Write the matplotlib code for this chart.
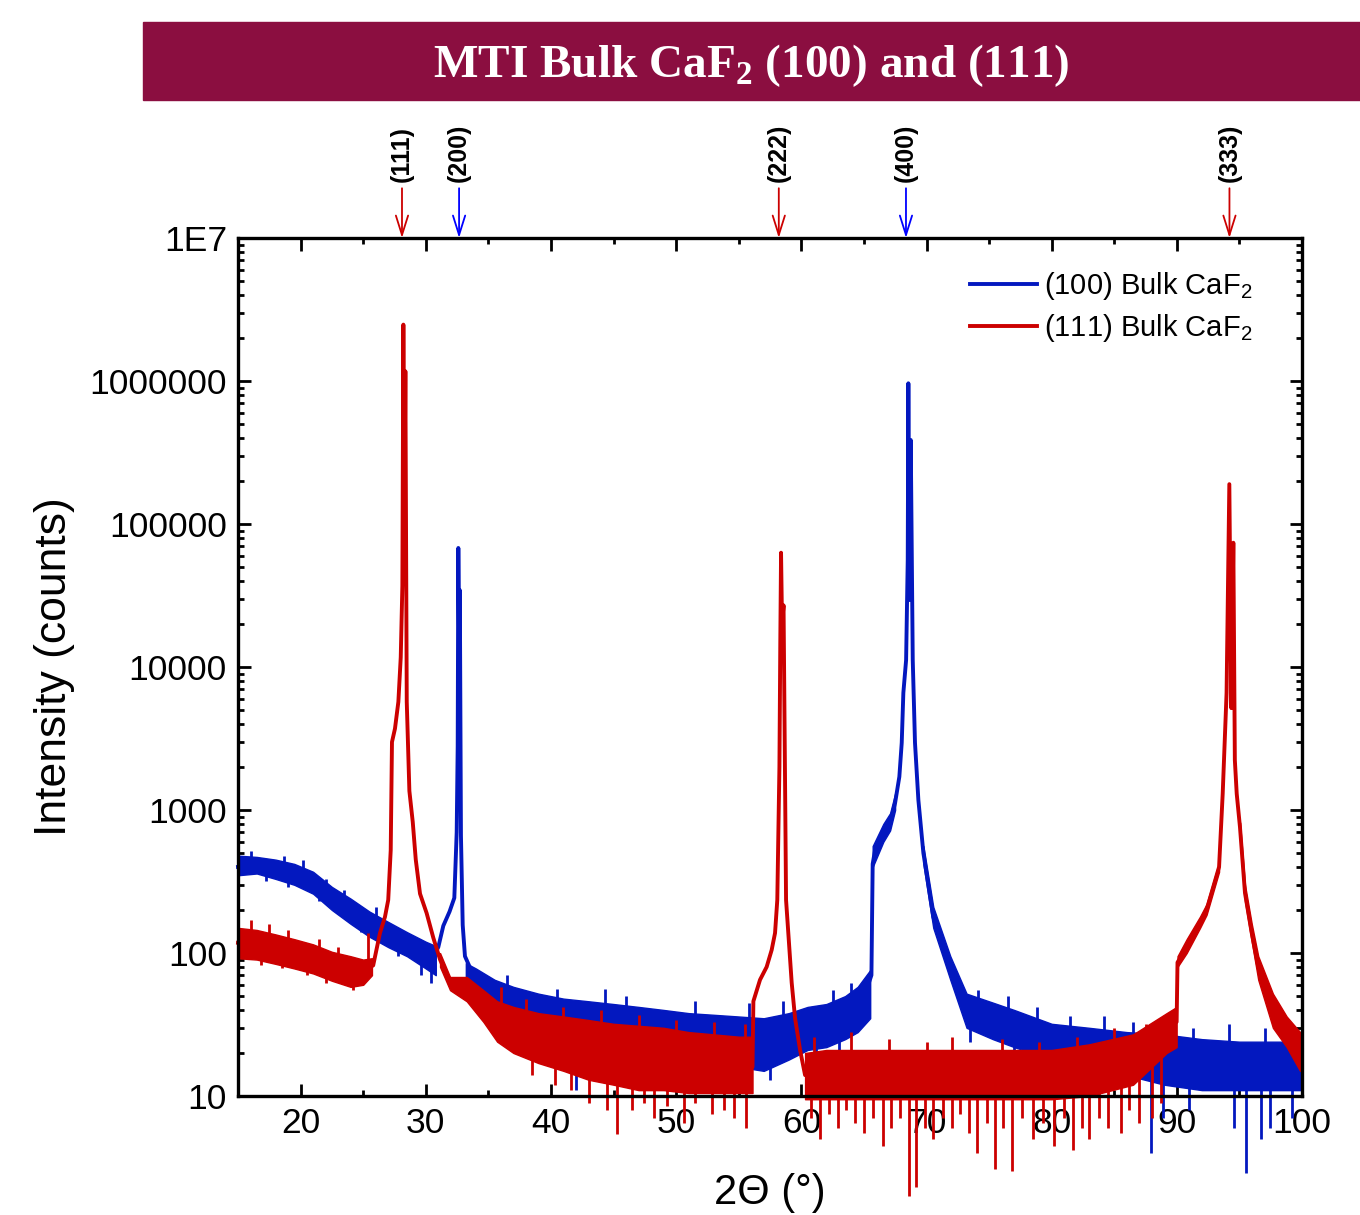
import numpy as np
import matplotlib.pyplot as plt
from matplotlib.patches import Rectangle
from matplotlib.ticker import FixedLocator, MultipleLocator, LogLocator, NullFormatter

plt.rcParams['font.family'] = ['Liberation Sans', 'DejaVu Sans']
plt.rcParams['mathtext.fontset'] = 'custom'
plt.rcParams['mathtext.rm'] = 'Liberation Sans'
plt.rcParams['mathtext.sf'] = 'Liberation Sans'
plt.rcParams['mathtext.bf'] = 'Liberation Serif:bold'

BLUE = '#0318BF'
RED = '#CC0000'

# ---- (100) Bulk CaF2, main trace ----
x_blue = [15.0, 16.5, 18.0, 19.5, 21.0, 22.5, 24.0, 25.5, 27.0, 28.5, 30.0, 30.5,
          31.0, 31.4, 31.9, 32.28, 32.47, 32.55, 32.6, 32.66, 32.72, 32.81, 32.95,
          33.13, 33.8, 34.6, 35.5, 37, 39, 41, 43, 45, 47, 49, 51, 53, 55, 57, 59,
          60.5, 62, 63.5, 64.5, 65.2, 65.6, 65.7, 65.89, 66.55, 67.09, 67.49, 67.83,
          68.02, 68.15, 68.37, 68.5, 68.55, 68.63, 68.74, 68.9, 69.08, 69.35, 69.75,
          70.54, 71.9, 73.2, 75.3, 77, 80, 83, 86, 89, 92, 95, 98, 100]
y_blue = [400, 410, 390, 360, 320, 250, 200, 165, 140, 120, 102, 90,
          110, 155, 195, 243, 700, 2800, 68000, 15000, 34500, 660, 157,
          95, 70, 62, 52, 46, 40, 37, 35, 33, 31, 29, 27, 26, 25, 24, 27,
          30, 32, 36, 42, 55, 70, 420, 525, 690, 810, 1120, 1710,
          2950, 6600, 11200, 56000, 964000, 29400, 387000, 11200, 2950, 1175, 500,
          179, 80, 40, 33, 29, 24, 21, 19, 18, 17, 16, 16, 16]

# noise band of the (100) trace
bx_blue = [[15, 16.5, 18, 19.5, 21, 22.5, 24, 25.5, 27, 28.5, 30, 30.8],
           [33.2, 34, 35.5, 37, 39, 41, 43, 45, 47, 49, 51, 53, 55, 57, 59, 60.5,
            62, 63.5, 64.5, 65.5],
           [65.7, 66.55, 67.09, 67.49],
           [69.75, 70.54, 71.9, 73.2, 75.3, 77, 80, 83, 86, 89, 92, 95, 98, 100]]
blo_blue = [[350, 360, 330, 300, 260, 200, 160, 130, 110, 95, 78, 70],
            [60, 52, 42, 36, 30, 27, 25, 23, 22, 20, 18, 17, 16, 15, 18, 21,
             22, 25, 28, 35],
            [400, 600, 720, 1000],
            [420, 150, 65, 30, 25, 22, 18, 15, 14, 12, 11, 11, 11, 11]]
bhi_blue = [[480, 470, 450, 420, 370, 290, 240, 195, 165, 140, 120, 112],
            [85, 78, 65, 58, 52, 48, 46, 44, 42, 40, 38, 37, 36, 35, 38, 42,
             44, 50, 58, 76],
            [560, 800, 950, 1300],
            [560, 210, 95, 52, 45, 40, 32, 30, 28, 27, 25, 24, 24, 24]]

# isolated noise spikes of the (100) trace
sx_blue = [16.0, 18.7, 20.2, 22.0, 23.5, 26.0, 17.2, 19.0, 21.5, 24.8, 27.8,
           29.6, 30.4,
           36.5, 40.5, 44.3, 46.0, 51.5, 55.8, 58.5, 62.5, 64.0,
           38.0, 42.0, 48.6, 53.4, 57.5, 61.2, 63.0,
           74.1, 76.5, 78.8, 81.5, 84.2, 86.5, 91.3, 94.2, 97.0, 99.5,
           73.5, 77.0, 80.0, 83.0, 87.9, 88.9, 91.0, 94.6, 95.5, 96.7, 97.4, 99.2]
slo_blue = [420, 400, 370, 290, 230, 165, 320, 290, 230, 140, 95,
            70, 62,
            45, 37, 34, 32, 28, 25, 26, 32, 38,
            28, 11, 18, 14, 13, 20, 21,
            33, 30, 26, 22, 20, 18, 16, 16, 16, 16,
            24, 17, 14, 12, 4, 7, 8, 6, 2.9, 5, 6, 7]
shi_blue = [520, 480, 450, 330, 275, 210, 400, 370, 320, 200, 150,
            110, 95,
            70, 56, 56, 50, 46, 45, 46, 55, 62,
            45, 37, 31, 26, 24, 32, 33,
            55, 50, 42, 36, 36, 33, 30, 32, 30, 30,
            40, 30, 24, 21, 18, 18, 17, 16, 16, 16, 16, 16]

# ---- (111) Bulk CaF2, main trace ----
x_red = [15, 16.5, 18, 19.5, 21, 22.5, 24, 25, 25.8, 26.34, 26.74, 27.0, 27.2,
         27.3, 27.54, 27.81, 28.0, 28.13, 28.21, 28.29, 28.37, 28.48, 28.69,
         28.96, 29.2, 29.54, 30.07, 30.6, 31.14, 31.94, 33.27, 34.6, 35.7, 37,
         39, 41, 43, 45, 47, 49, 51, 53, 55, 56.1, 56.17, 56.7, 57.23, 57.63,
         57.9, 58.08, 58.25, 58.32, 58.38, 58.46, 58.58, 58.78, 58.96, 59.23,
         59.5, 59.9, 60.3, 62, 65, 68, 71, 74, 77, 80, 83, 86.5, 89.18, 89.98,
         90.05, 90.78, 91.85, 92.37, 93.37, 93.66, 93.97, 94.19, 94.35, 94.51,
         94.63, 94.78, 95.04, 95.44, 95.98, 96.5, 97.67, 98.77, 99.84, 100]
y_red = [118, 115, 108, 100, 92, 82, 76, 74, 82, 138, 179, 235, 525,
         2990, 3710, 5710, 11700, 37000, 2480000, 100000, 1170000, 5710, 1360,
         824, 450, 260, 190, 128, 90, 62, 56, 44, 34, 30,
         27, 24, 22, 20, 19, 18, 18, 17, 16, 16, 46, 65, 80, 105,
         138, 235, 2000, 15000, 63000, 20000, 27000, 235, 138, 62,
         35, 21, 14, 14, 14, 14, 14, 14, 14, 14, 15, 18, 30, 33,
         86, 110, 162, 200, 400, 1300, 6600, 190000, 5160, 74000,
         2240, 1300, 760, 263, 138, 80, 40, 28, 21, 21]

bx_red = [[15, 16.5, 18, 19.5, 21, 22.5, 24, 25, 25.7],
          [31.14, 31.94, 33.27, 34.6, 35.7, 37, 39, 41, 43, 45, 47, 49, 51, 53,
           55, 56.1],
          [60.3, 62, 65, 68, 71, 74, 77, 80, 83, 86.5, 89.18, 89.98],
          [90.05, 90.78, 91.85, 92.37, 93.37],
          [95.04, 95.44, 95.98, 96.5, 97.67, 98.77, 99.84, 100]]
blo_red = [[92, 90, 84, 78, 72, 64, 58, 60, 70],
           [80, 55, 46, 33, 24, 20, 17, 15, 13, 12, 11, 11, 10.5, 10.5, 10.5, 10.5],
           [9.5, 9.5, 9.5, 9.5, 9.5, 9.5, 9.5, 9.5, 10, 12, 20, 22],
           [80, 100, 150, 185, 370],
           [700, 230, 120, 65, 30, 22, 15, 15]]
bhi_red = [[150, 145, 135, 125, 115, 102, 95, 90, 92],
           [100, 68, 68, 55, 46, 42, 38, 36, 34, 32, 31, 30, 28, 27, 26, 26],
           [20, 21, 21, 21, 21, 21, 21, 21, 23, 27, 38, 42],
           [95, 125, 180, 220, 430],
           [820, 300, 160, 95, 52, 36, 28, 28]]

sx_red = [16.0, 17.5, 19.0, 21.5, 23.0, 16.8, 18.5, 20.5, 22.0, 24.2, 25.4,
          36.0, 38.0, 41.0, 44.0, 47.0, 50.0, 53.0, 55.5,
          38.5, 40.3, 41.6, 43.0, 44.45, 45.3, 46.5, 47.4, 48.2, 49.3, 50.6,
          51.5, 52.9, 53.8, 54.6, 55.6,
          61.0, 64.0, 67.0, 70.0, 72.0, 76.0, 79.0, 82.0, 85.0, 87.5,
          60.8, 61.5, 62.2, 62.9, 63.6, 64.3, 65.0, 65.7, 66.5, 67.2, 67.9,
          68.6, 69.2, 69.9, 70.5, 71.3, 72.0, 72.7, 73.4, 74.0, 74.8, 75.5,
          76.1, 76.8, 77.6, 78.5, 79.3, 80.2, 81.0, 81.7, 82.4, 83.0, 83.8,
          84.5, 85.5, 86.2, 87.0, 88.0, 88.7]
slo_red = [118, 112, 100, 88, 80, 82, 78, 70, 62, 55, 80,
           34, 30, 24, 20, 19, 18, 17, 16,
           14, 12, 11, 9, 8, 5.4, 8, 9, 7, 8.5, 6.5,
           9, 7.5, 8, 7, 6,
           14, 14, 14, 14, 14, 14, 14, 14, 15, 20,
           7, 5, 7.5, 6, 8, 6.5, 5.5, 7, 4.5, 6, 7,
           2.0, 2.3, 6, 5, 7, 6, 7.5, 5.5, 4, 6.5, 3.1,
           6, 3.0, 7, 5, 6.5, 4.5, 7, 4.2, 6, 5, 7,
           6, 5.5, 8, 6.5, 7, 9]
shi_red = [170, 160, 145, 125, 110, 118, 112, 100, 88, 80, 138,
           58, 48, 42, 40, 37, 34, 33, 32,
           27, 24, 22, 21, 20, 19, 19, 18, 18, 18, 18,
           17, 17, 16, 16, 16,
           26, 28, 25, 24, 26, 25, 24, 26, 30, 32,
           14, 14, 14, 14, 14, 14, 14, 14, 14, 14, 14,
           14, 14, 14, 14, 14, 14, 14, 14, 14, 14, 14,
           14, 14, 14, 14, 14, 14, 14, 14, 14, 15, 15,
           15, 16, 17, 18, 20, 22]

# ---- reflections marked above the frame ----
peak_pos = [28.1, 32.66, 58.2, 68.36, 94.2]
peak_lab = ['(111)', '(200)', '(222)', '(400)', '(333)']
peak_col = [RED, '#0000FF', RED, '#0000FF', RED]

xticks = [20, 30, 40, 50, 60, 70, 80, 90, 100]
yticks = [10, 100, 1000, 10000, 100000, 1000000, 10000000]
ytick_lab = ['10', '100', '1000', '10000', '100000', '1000000', '1E7']

fig = plt.figure(figsize=(13.6, 12.15), dpi=100)
ax = fig.add_axes([0.175, 0.0979, 0.7824, 0.7062])

# title banner
fig.patches.append(Rectangle((0.1051, 0.9177), 0.8949, 0.0642,
                             transform=fig.transFigure, color='#8B0E40', zorder=0))
fig.text(0.5526, 0.946, r'MTI Bulk CaF$_\mathbf{2}$ (100) and (111)',
         family='Liberation Serif', weight='bold', fontsize=34, color='white',
         ha='center', va='center')

def draw(xs, ys, bxs, blo, bhi, sx, slo, shi, color, label, z):
    for bx, lo, hi in zip(bxs, blo, bhi):
        ax.fill_between(bx, lo, hi, color=color, lw=1, clip_on=False, zorder=z)
    ax.vlines(sx, slo, shi, color=color, lw=2, clip_on=False, zorder=z)
    ax.plot(xs, ys, color=color, lw=2.8, clip_on=False, zorder=z, label=label)

draw(x_blue, y_blue, bx_blue, blo_blue, bhi_blue, sx_blue, slo_blue, shi_blue,
     BLUE, r'(100) Bulk CaF$_\mathsf{2}$', 3)
draw(x_red, y_red, bx_red, blo_red, bhi_red, sx_red, slo_red, shi_red,
     RED, r'(111) Bulk CaF$_\mathsf{2}$', 3.1)

ax.set_yscale('log')
ax.set_xlim(15, 100)
ax.set_ylim(10, 1e7)

ax.xaxis.set_major_locator(FixedLocator(xticks))
ax.xaxis.set_minor_locator(MultipleLocator(5))
ax.yaxis.set_major_locator(FixedLocator(yticks))
ax.set_yticklabels(ytick_lab)
ax.yaxis.set_minor_locator(LogLocator(base=10, subs=np.arange(2, 10)))
ax.yaxis.set_minor_formatter(NullFormatter())

ax.tick_params(which='both', direction='in', top=True, right=True, width=2)
ax.tick_params(which='major', length=9, labelsize=25.5, pad=8)
ax.tick_params(which='minor', length=4.5)
for s in ax.spines.values():
    s.set_linewidth(2.4)
    s.set_zorder(5)

ax.set_xlabel('2\u0398 (\u00b0)', fontsize=30, labelpad=24)
ax.set_ylabel('Intensity (counts)', fontsize=32, labelpad=10)

for p, lab, c in zip(peak_pos, peak_lab, peak_col):
    ax.annotate('', xy=(p, 1.0), xytext=(p, 1.058),
                xycoords=('data', 'axes fraction'), annotation_clip=False,
                arrowprops=dict(arrowstyle='->,head_length=0.7,head_width=0.22',
                                color=c, lw=1.3, mutation_scale=20,
                                shrinkA=0, shrinkB=0))
    ax.text(p, 1.065, lab, transform=ax.get_xaxis_transform(), rotation=90,
            ha='center', va='bottom', fontsize=18, weight='bold')

ax.legend(loc='upper left', bbox_to_anchor=(0.688, 0.963), frameon=False,
          fontsize=21, handlelength=2.3, handletextpad=0.25, labelspacing=0.35,
          borderpad=0, borderaxespad=0)

fig.savefig('out.png', dpi=100)
